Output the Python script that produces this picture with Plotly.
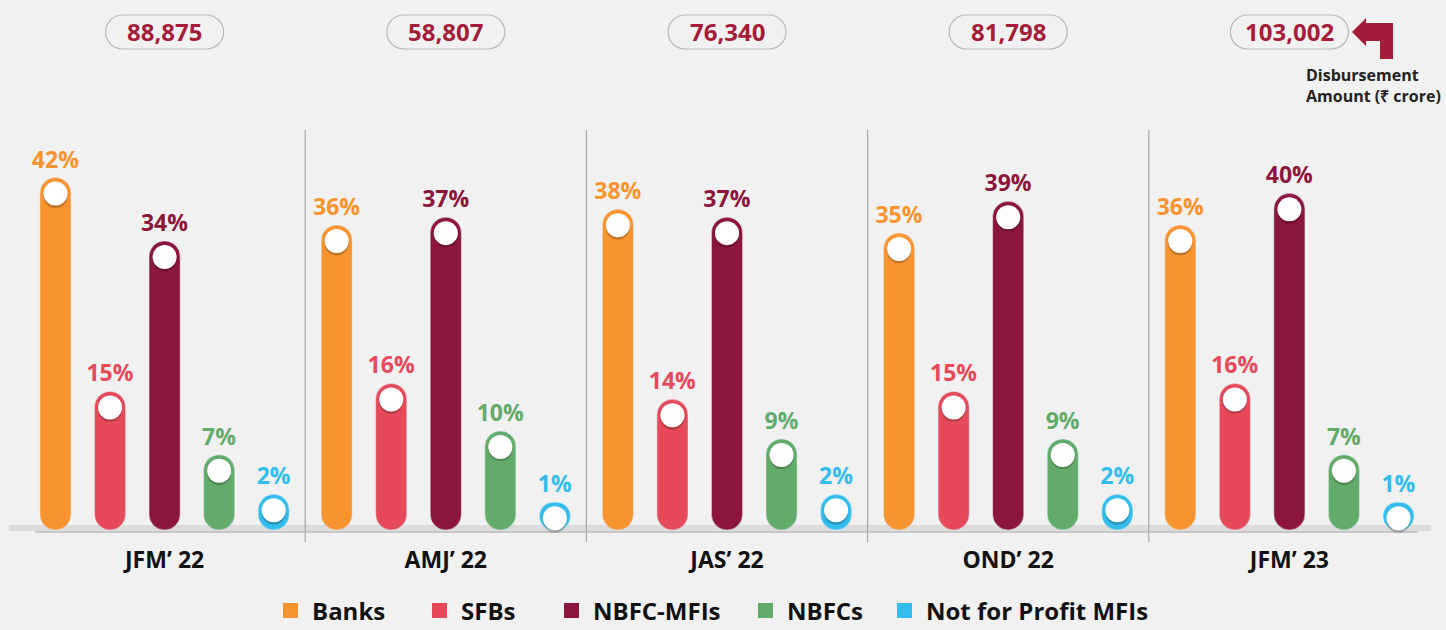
import plotly.graph_objects as go

# quarters and disbursement totals (Rs crore)
quarters = ["JFM’ 22", "AMJ’ 22", "JAS’ 22", "OND’ 22", "JFM’ 23"]
disbursement = ["88,875", "58,807", "76,340", "81,798", "103,002"]

# share of disbursement by lender type (%)
banks = [42, 36, 38, 35, 36]
sfbs = [15, 16, 14, 15, 16]
nbfc_mfis = [34, 37, 37, 39, 40]
nbfcs = [7, 10, 9, 9, 7]
nfp_mfis = [2, 1, 2, 2, 1]

series = [
    ("Banks", banks, "#F7942F"),
    ("SFBs", sfbs, "#E64A5A"),
    ("NBFC-MFIs", nbfc_mfis, "#8B153B"),
    ("NBFCs", nbfcs, "#63AB6B"),
    ("Not for Profit MFIs", nfp_mfis, "#33BDEC"),
]

FONT = "Open Sans"
BG = "#f1f1f1"
BASE = -2.5        # bars start a little below zero, like the original
YMAX = 48

# plot area in pixels (used to place the hand made legend etc.)
L, R, T, B = 24, 16, 130, 100
W, H = 1446, 630
PW, PH = W - L - R, H - T - B
knob = 16 * (YMAX - BASE) / PH   # knob centre sits half a bar width below the top


def px_x(px):
    return (px - L) / PW


def px_y(py):
    return (H - B - py) / PH


fig = go.Figure()

for name, vals, col in series:
    fig.add_trace(go.Bar(
        x=quarters, y=[v - BASE for v in vals], base=BASE,
        name=name, marker_color=col, offsetgroup=name,
        text=[f"{v}%" for v in vals], textposition="outside",
        textfont=dict(family=FONT, size=23, color=col, weight="bold"),
        constraintext="none", cliponaxis=False, hoverinfo="skip",
        showlegend=False,
    ))

# white knobs on top of each bar (with a soft shadow)
for name, vals, col in series:
    fig.add_trace(go.Scatter(
        x=quarters, y=[v - knob - 0.3 for v in vals], mode="markers",
        offsetgroup=name, showlegend=False, hoverinfo="skip", cliponaxis=False,
        marker=dict(size=24, color="rgba(0,0,0,0.22)", line_width=0),
    ))
    fig.add_trace(go.Scatter(
        x=quarters, y=[v - knob for v in vals], mode="markers",
        offsetgroup=name, showlegend=False, hoverinfo="skip", cliponaxis=False,
        marker=dict(size=24, color="white", line_width=0),
    ))

shapes = []
# baseline band + thin axis line
shapes.append(dict(type="rect", xref="paper", yref="paper", x0=px_x(9), x1=px_x(1431),
                   y0=px_y(531), y1=px_y(525), fillcolor="#dcdcdc", line_width=0, layer="below"))
shapes.append(dict(type="line", xref="paper", yref="paper", x0=px_x(35), x1=px_x(1418),
                   y0=px_y(532), y1=px_y(532), line=dict(color="#a0a0a0", width=1.2), layer="below"))
# separators between quarters
for i in range(len(quarters) - 1):
    shapes.append(dict(type="line", xref="x", yref="paper", x0=i + 0.5, x1=i + 0.5,
                       y0=px_y(542), y1=1, line=dict(color="#a8a8a8", width=1.2), layer="below"))

# rounded pills holding the totals
pill = ("M -42,-17 L 42,-17 C 51.4,-17 59,-9.4 59,0 C 59,9.4 51.4,17 42,17 "
        "L -42,17 C -51.4,17 -59,9.4 -59,0 C -59,-9.4 -51.4,-17 -42,-17 Z")
PILL_Y = px_y(32)
for i in range(len(quarters)):
    shapes.append(dict(type="path", xref="x", yref="paper", xsizemode="pixel",
                       ysizemode="pixel", xanchor=i, yanchor=PILL_Y, path=pill,
                       line=dict(color="#b4bac0", width=1.2), fillcolor=BG))

# bent arrow pointing at the last pill
arrow = "M 0,0 L 14,14 L 14,9 L 41,9 L 41,-27 L 28,-27 L 28,-9 L 14,-9 L 14,-14 Z"
shapes.append(dict(type="path", xref="paper", yref="paper", xsizemode="pixel",
                   ysizemode="pixel", xanchor=px_x(1352), yanchor=PILL_Y, path=arrow,
                   line_width=0, fillcolor="#A51C3A"))

annotations = []
for q, amt in zip(quarters, disbursement):
    annotations.append(dict(x=q, y=PILL_Y, xref="x", yref="paper", text=amt,
                            showarrow=False, yanchor="middle", xanchor="center",
                            font=dict(family=FONT, size=24, color="#A51C3A", weight="bold")))
annotations.append(dict(x=px_x(1304), y=px_y(62), xref="paper", yref="paper",
                        xanchor="left", yanchor="top", align="left", showarrow=False,
                        text="Disbursement<br>Amount (₹ crore)",
                        font=dict(family=FONT, size=16, color="#222222", weight="bold")))

# legend drawn by hand so the spacing matches the original
legend_left = [283, 432, 564, 758, 897]
LEG_Y = 610
for (name, vals, col), lx in zip(series, legend_left):
    shapes.append(dict(type="rect", xref="paper", yref="paper",
                       x0=px_x(lx), x1=px_x(lx + 15), y0=px_y(LEG_Y + 8), y1=px_y(LEG_Y - 7),
                       fillcolor=col, line_width=0))
    annotations.append(dict(x=px_x(lx + 27), y=px_y(LEG_Y), xref="paper", yref="paper",
                            xanchor="left", yanchor="middle", showarrow=False, text=name,
                            font=dict(family=FONT, size=24, color="#111111", weight="bold")))

fig.update_layout(
    width=W, height=H,
    margin=dict(l=L, r=R, t=T, b=B),
    paper_bgcolor=BG, plot_bgcolor=BG,
    barmode="group", bargap=0.03, bargroupgap=0.43, barcornerradius=16,
    scattermode="group", scattergap=0.03,
    shapes=shapes, annotations=annotations,
    showlegend=False,
    xaxis=dict(showgrid=False, zeroline=False, showline=False, ticks="",
               ticklabelstandoff=14,
               tickfont=dict(family=FONT, size=23, color="#111111", weight="bold")),
    yaxis=dict(range=[BASE, YMAX], visible=False, showgrid=False, zeroline=False),
)

fig.write_html("out.html", config={"displayModeBar": False},
               post_script="document.body.style.margin='0';")
